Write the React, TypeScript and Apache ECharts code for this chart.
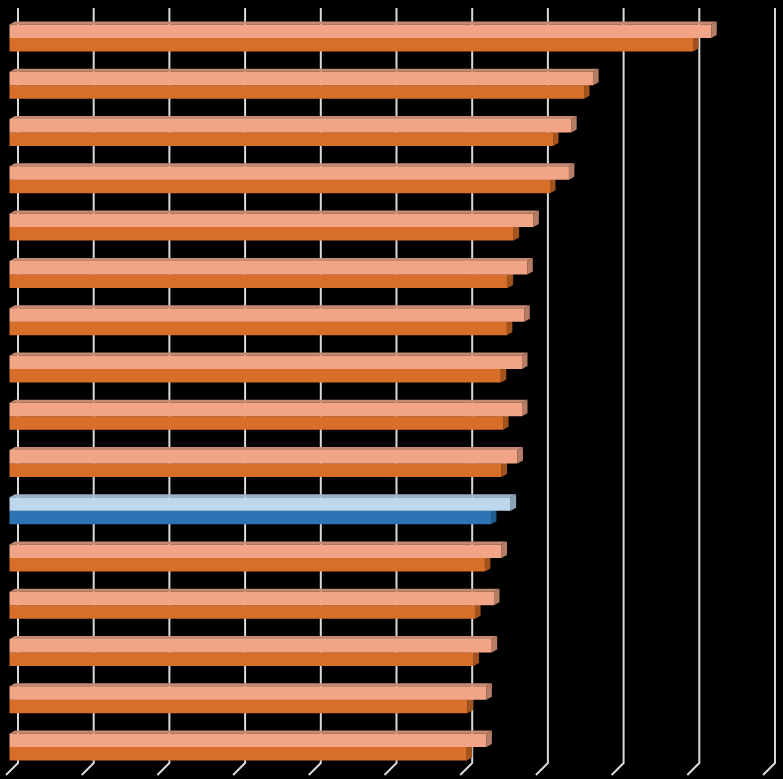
import React, { useEffect, useRef } from "react";
import * as echarts from "echarts";

const categories = ["1", "2", "3", "4", "5", "6", "7", "8", "9", "10", "11", "12", "13", "14", "15", "16"];
const seriesA = [9.27, 7.71, 7.42, 7.39, 6.92, 6.84, 6.8, 6.77, 6.77, 6.71, 6.62, 6.5, 6.4, 6.37, 6.3, 6.3];
const seriesB = [9.03, 7.59, 7.18, 7.14, 6.66, 6.58, 6.57, 6.49, 6.52, 6.5, 6.36, 6.28, 6.15, 6.13, 6.05, 6.04];
const gridTicks = [0, 1, 2, 3, 4, 5, 6, 7, 8, 9, 10];
const HIGHLIGHT = 10;

const COLORS = {
  light: { front: "#F2A586", top: "#C48A72", side: "#B57C66" },
  dark: { front: "#D76F2B", top: "#A9561F", side: "#A3531E" },
  lightHi: { front: "#BDD7EE", top: "#9CB1C6", side: "#8DA2B7" },
  darkHi: { front: "#2E74B5", top: "#235A8D", side: "#245C90" },
};

const BAR_H = 13.5;
const DX = 5.5;
const DY = 3;

function makeRender(isLight: boolean) {
  return (params: any, api: any) => {
    const v = api.value(0);
    const cat = api.value(1);
    const p0 = api.coord([0, cat]);
    const p1 = api.coord([v, cat]);
    const idx = params.dataIndex;
    const hi = idx === HIGHLIGHT;
    const c = isLight ? (hi ? COLORS.lightHi : COLORS.light) : hi ? COLORS.darkHi : COLORS.dark;
    const x0 = p0[0];
    const x1 = p1[0];
    const y0 = isLight ? p0[1] - BAR_H : p0[1];
    const y1 = y0 + BAR_H;
    return {
      type: "group",
      children: [
        {
          type: "polygon",
          z2: 1,
          shape: { points: [[x0, y0], [x1, y0], [x1 + DX, y0 - DY], [x0 + DX, y0 - DY]] },
          style: { fill: c.top, opacity: 1, stroke: null },
        },
        {
          type: "polygon",
          z2: 1,
          shape: { points: [[x1, y0], [x1 + DX, y0 - DY], [x1 + DX, y1 - DY], [x1, y1]] },
          style: { fill: c.side, opacity: 1, stroke: null },
        },
        {
          type: "rect",
          z2: 2,
          shape: { x: x0, y: y0, width: x1 - x0, height: BAR_H },
          style: { fill: c.front, opacity: 1, stroke: null },
        },
      ],
    };
  };
}

export default function App() {
  const ref = useRef<HTMLDivElement>(null);
  useEffect(() => {
    document.body.style.margin = "0";
    document.body.style.background = "#000";
    const chart = echarts.init(ref.current!, null, { renderer: "svg" });
    const option: any = {
      animation: false,
      backgroundColor: "#000000",
      grid: [
        { left: 9.5, top: 14.4, width: 757, height: 756.3 },
        { left: 18, top: 8, width: 757, height: 755 },
      ],
      xAxis: [
        { type: "value", gridIndex: 0, min: 0, max: 10, show: false },
        { type: "value", gridIndex: 1, min: 0, max: 10, interval: 1, show: false },
      ],
      yAxis: [
        { type: "category", gridIndex: 0, data: categories, inverse: true, show: false },
        { type: "value", gridIndex: 1, min: 0, max: 1, show: false },
      ],
      series: [
        {
          type: "custom",
          xAxisIndex: 1,
          yAxisIndex: 1,
          z: 1,
          silent: true,
          data: gridTicks.map((t) => [t, 0]),
          renderItem: (_p: any, api: any) => {
            const pb = api.coord([api.value(0), 0]);
            const pt = api.coord([api.value(0), 1]);
            return {
              type: "polyline",
              shape: { points: [[pt[0], pt[1]], [pb[0], pb[1]], [pb[0] - 12, pb[1] + 12]] },
              style: { stroke: "#D9D9D9", lineWidth: 2, fill: null },
            };
          },
        },
        {
          type: "custom",
          xAxisIndex: 0,
          yAxisIndex: 0,
          z: 5,
          data: seriesB.map((v, i) => [v, i]),
          renderItem: makeRender(false),
        },
        {
          type: "custom",
          xAxisIndex: 0,
          yAxisIndex: 0,
          z: 6,
          data: seriesA.map((v, i) => [v, i]),
          renderItem: makeRender(true),
        },
      ],
    };
    chart.setOption(option);
    return () => chart.dispose();
  }, []);
  return <div ref={ref} style={{ width: 783, height: 779 }} />;
}
